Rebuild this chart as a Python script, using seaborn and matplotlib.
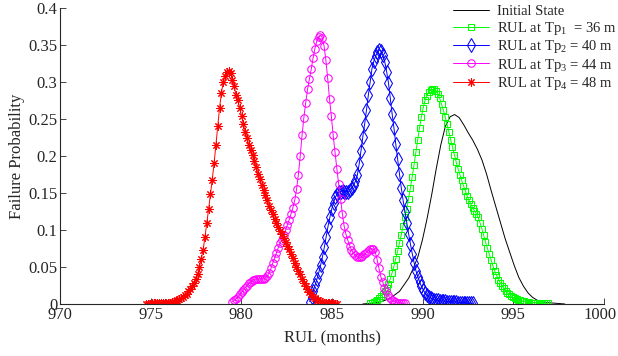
import seaborn as sns
import matplotlib
matplotlib.use('Agg')
import matplotlib.pyplot as plt
import matplotlib.transforms as mtransforms
import numpy as np
from matplotlib.ticker import FuncFormatter

# RUL grid step (months) for the marker series
step = 0.101

# Initial state (plain line)
init_x = [986.70, 987.21, 987.72, 988.22, 988.72, 989.23, 989.48, 989.74, 989.99, 990.24,
          990.50, 990.75, 991.00, 991.25, 991.51, 991.76, 992.01, 992.27, 992.52, 992.77,
          993.02, 993.28, 993.53, 993.78, 994.04, 994.29, 994.54, 994.80, 995.05, 995.30,
          995.56, 995.81, 996.06, 996.32, 996.82, 997.33, 997.84]
init_y = [0.000, 0.001, 0.003, 0.008, 0.017, 0.035, 0.048, 0.064, 0.087, 0.115,
          0.148, 0.183, 0.215, 0.240, 0.253, 0.256, 0.252, 0.242, 0.231, 0.221,
          0.209, 0.194, 0.175, 0.153, 0.131, 0.110, 0.089, 0.070, 0.052, 0.036,
          0.024, 0.015, 0.009, 0.005, 0.002, 0.001, 0.000]

# RUL at Tp1 = 36 m
tp1_start = 987.10
tp1_y = [0.001, 0.002, 0.003, 0.004, 0.006, 0.008, 0.011, 0.014, 0.018, 0.022,
         0.027, 0.034, 0.042, 0.051, 0.061, 0.071, 0.082, 0.093, 0.105, 0.117,
         0.129, 0.142, 0.157, 0.172, 0.188, 0.205, 0.222, 0.238, 0.253, 0.265,
         0.275, 0.281, 0.286, 0.289, 0.290, 0.290, 0.288, 0.284, 0.278, 0.270,
         0.262, 0.253, 0.243, 0.233, 0.222, 0.212, 0.202, 0.192, 0.183, 0.175,
         0.167, 0.160, 0.153, 0.146, 0.140, 0.135, 0.130, 0.126, 0.122, 0.117,
         0.110, 0.102, 0.093, 0.084, 0.076, 0.068, 0.060, 0.052, 0.045, 0.039,
         0.033, 0.029, 0.025, 0.021, 0.018, 0.015, 0.013, 0.011, 0.009, 0.008,
         0.007, 0.006, 0.005, 0.004, 0.004, 0.003, 0.003, 0.003, 0.002, 0.002,
         0.002, 0.002, 0.001, 0.001, 0.001, 0.001, 0.001, 0.001]

# RUL at Tp2 = 40 m
tp2_start = 983.77
tp2_y = [0.003, 0.010, 0.018, 0.026, 0.034, 0.043, 0.053, 0.064, 0.077, 0.091,
         0.105, 0.117, 0.128, 0.137, 0.144, 0.149, 0.151, 0.152, 0.153, 0.152,
         0.152, 0.152, 0.154, 0.157, 0.161, 0.166, 0.174, 0.189, 0.207, 0.226,
         0.243, 0.262, 0.282, 0.300, 0.318, 0.328, 0.335, 0.340, 0.343, 0.342,
         0.336, 0.327, 0.314, 0.299, 0.278, 0.257, 0.238, 0.216, 0.196, 0.176,
         0.157, 0.140, 0.125, 0.110, 0.095, 0.081, 0.068, 0.056, 0.045, 0.037,
         0.030, 0.024, 0.019, 0.015, 0.012, 0.010, 0.008, 0.007, 0.006, 0.005,
         0.005, 0.004, 0.004, 0.004, 0.004, 0.003, 0.003, 0.003, 0.003, 0.003,
         0.003, 0.002, 0.002, 0.002, 0.002, 0.002, 0.001, 0.001, 0.001, 0.001]

# RUL at Tp3 = 44 m
tp3_start = 979.51
tp3_y = [0.003, 0.005, 0.007, 0.010, 0.013, 0.016, 0.019, 0.022, 0.025, 0.028,
         0.030, 0.032, 0.033, 0.034, 0.034, 0.034, 0.034, 0.034, 0.035, 0.038,
         0.042, 0.048, 0.055, 0.062, 0.069, 0.076, 0.082, 0.087, 0.093, 0.100,
         0.107, 0.114, 0.122, 0.130, 0.140, 0.155, 0.175, 0.200, 0.228, 0.252,
         0.272, 0.290, 0.304, 0.317, 0.332, 0.345, 0.355, 0.361, 0.363, 0.360,
         0.349, 0.330, 0.305, 0.277, 0.254, 0.228, 0.205, 0.183, 0.162, 0.142,
         0.122, 0.105, 0.094, 0.086, 0.079, 0.073, 0.069, 0.066, 0.064, 0.063,
         0.063, 0.065, 0.067, 0.069, 0.072, 0.074, 0.075, 0.074, 0.070, 0.060,
         0.048, 0.037, 0.030, 0.022, 0.017, 0.012, 0.008, 0.005, 0.004, 0.003,
         0.002, 0.002, 0.001, 0.001, 0.001]

# RUL at Tp4 = 48 m
tp4_start = 974.76
tp4_y = [0.000, 0.000, 0.000, 0.001, 0.001, 0.001, 0.001, 0.001, 0.001, 0.001,
         0.001, 0.002, 0.002, 0.002, 0.003, 0.003, 0.004, 0.005, 0.007, 0.008,
         0.010, 0.012, 0.014, 0.017, 0.020, 0.024, 0.029, 0.034, 0.040, 0.050,
         0.061, 0.073, 0.090, 0.109, 0.128, 0.148, 0.168, 0.190, 0.215, 0.240,
         0.265, 0.285, 0.300, 0.308, 0.313, 0.315, 0.312, 0.303, 0.294, 0.283,
         0.275, 0.265, 0.254, 0.243, 0.233, 0.224, 0.215, 0.208, 0.201, 0.193,
         0.185, 0.176, 0.169, 0.161, 0.154, 0.147, 0.140, 0.133, 0.127, 0.121,
         0.115, 0.109, 0.104, 0.099, 0.094, 0.089, 0.084, 0.079, 0.074, 0.068,
         0.062, 0.056, 0.050, 0.045, 0.040, 0.034, 0.029, 0.025, 0.020, 0.016,
         0.013, 0.010, 0.008, 0.006, 0.005, 0.004, 0.003, 0.002, 0.002, 0.001,
         0.001, 0.001, 0.001, 0.000, 0.000]

labels = ['Initial State',
          r'RUL at Tp$_\mathregular{1}$  = 36 m',
          r'RUL at Tp$_\mathregular{2}$ = 40 m',
          r'RUL at Tp$_\mathregular{3}$ = 44 m',
          r'RUL at Tp$_\mathregular{4}$ = 48 m']
colors = ['black', '#00ff00', '#0000ff', '#ff00ff', '#ff0000']
markers = [None, 's', 'd', 'o', (8, 2, 0)]
msizes = [0, 5, 7, 5.4, 6]

sns.set_style('ticks')
plt.rcParams['font.family'] = ['Liberation Serif', 'DejaVu Serif']
plt.rcParams['mathtext.fontset'] = 'custom'
plt.rcParams['mathtext.rm'] = 'Liberation Serif'
plt.rcParams['font.size'] = 12

fig = plt.figure(figsize=(6.18, 3.56), dpi=100)
ax = fig.add_axes([60 / 618, 52 / 356, 544 / 618, 296 / 356])

series = [(np.array(init_x), np.array(init_y))]
for start, ys in [(tp1_start, tp1_y), (tp2_start, tp2_y), (tp3_start, tp3_y), (tp4_start, tp4_y)]:
    xs = start + step * np.arange(len(ys))
    series.append((xs, np.array(ys)))

for (xs, ys), lab, col, mk, ms in zip(series, labels, colors, markers, msizes):
    sns.lineplot(x=xs, y=ys, ax=ax, color=col, label=lab, marker=mk,
                 markersize=ms, markerfacecolor='none', markeredgecolor=col,
                 markeredgewidth=0.75, linewidth=0.7, sort=False,
                 estimator=None)

ax.set_xlim(970, 1000)
ax.set_ylim(0, 0.4)
ax.set_xticks(np.arange(970, 1001, 5))
ax.set_yticks(np.arange(0, 0.401, 0.05))
ax.yaxis.set_major_formatter(FuncFormatter(lambda v, p: '%g' % round(v, 2)))
ax.tick_params(direction='in', length=4, width=0.6, colors='#262626',
               labelsize=12, pad=2)
for s in ['top', 'right']:
    ax.spines[s].set_visible(False)
for s in ['left', 'bottom']:
    ax.spines[s].set_linewidth(0.8)
    ax.spines[s].set_color('#262626')

# nudge the last x tick label left so it stays inside the figure
last = ax.get_xticklabels()[-1]
last.set_transform(last.get_transform() +
                   mtransforms.ScaledTranslation(-4 / 100, 0, fig.dpi_scale_trans))

ax.set_xlabel('RUL (months)', fontsize=12, color='#262626', labelpad=5)
ax.set_ylabel('Failure Probability', fontsize=12, color='#262626', labelpad=2)

leg = ax.legend(loc='upper left', bbox_to_anchor=(453 / 618, 1 - 5 / 356),
                bbox_transform=fig.transFigure, frameon=False,
                handlelength=2.5, labelspacing=0.1, borderaxespad=0,
                borderpad=0, handletextpad=0.55, numpoints=1, fontsize=10.5)

fig.savefig('out.png', dpi=100)
